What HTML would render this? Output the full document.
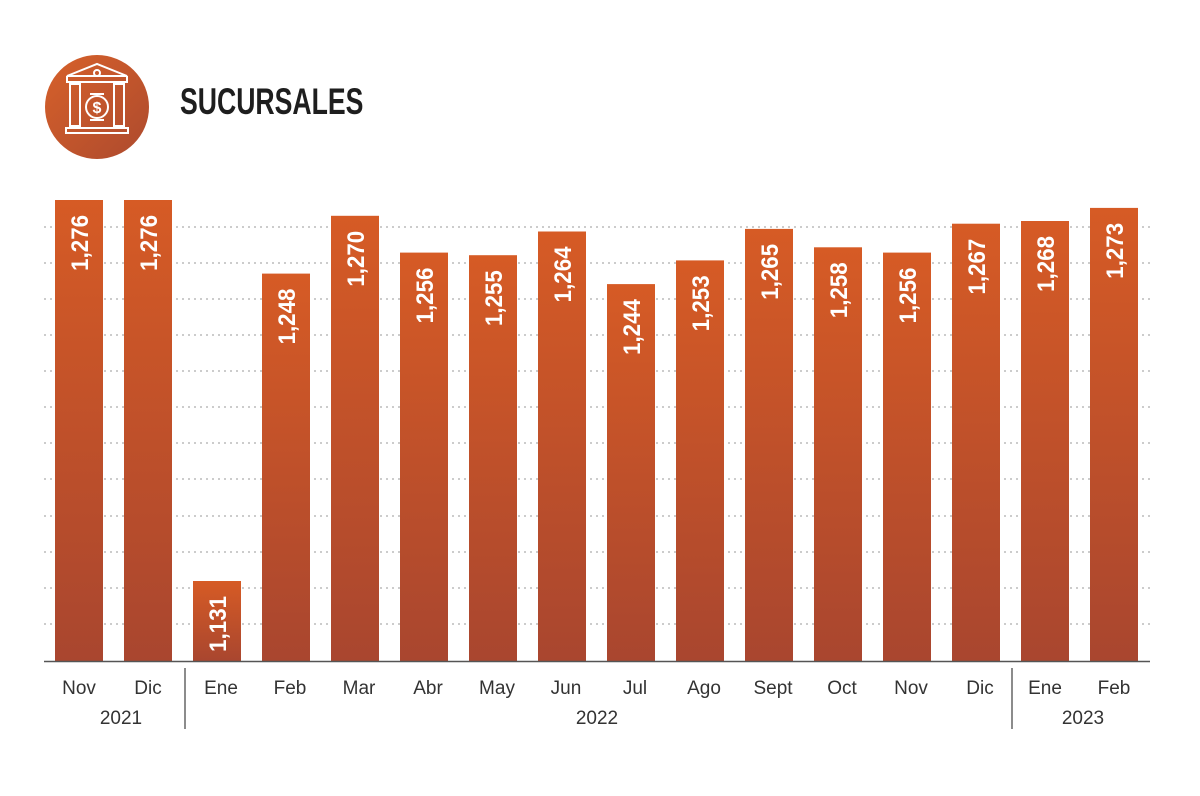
<!DOCTYPE html>
<html><head><meta charset="utf-8"><style>
body{margin:0;background:#fff}
svg text{font-family:"Liberation Sans",sans-serif}
</style></head><body>
<svg width="1200" height="791" viewBox="0 0 1200 791" xmlns="http://www.w3.org/2000/svg">
<defs>
<linearGradient id="g" x1="0" y1="0" x2="0" y2="1"><stop offset="0" stop-color="#d65b25"/><stop offset="1" stop-color="#a9462f"/></linearGradient>
<linearGradient id="c" x1="0" y1="0" x2="1" y2="1"><stop offset="0" stop-color="#d7612a"/><stop offset="1" stop-color="#ad4a2e"/></linearGradient>
</defs>
<circle cx="97" cy="107" r="52" fill="url(#c)"/>
<g stroke="#fff" stroke-width="2" fill="none">
<path d="M67 76 L97 64 L127 76 Z M67 76 v6 h60 v-6"/>
<circle cx="97" cy="73" r="3"/>
<rect x="70" y="84" width="10" height="42"/><rect x="114" y="84" width="10" height="42"/>
<circle cx="97" cy="107" r="11"/>
<path d="M90 94 h14 M90 120 h14 M66 128 h62 v5 h-62 z"/>
</g>
<text x="97" y="113" font-size="16" fill="#fff" text-anchor="middle" font-weight="bold">$</text>
<text transform="translate(180,114) scale(0.72,1)" font-size="37" font-weight="bold" fill="#1e1e1e">SUCURSALES</text>
<g stroke="#ccc" stroke-width="2" stroke-dasharray="2,4">
<line x1="44" x2="1150" y1="227" y2="227"/><line x1="44" x2="1150" y1="263" y2="263"/><line x1="44" x2="1150" y1="299" y2="299"/><line x1="44" x2="1150" y1="335" y2="335"/><line x1="44" x2="1150" y1="371" y2="371"/><line x1="44" x2="1150" y1="407" y2="407"/><line x1="44" x2="1150" y1="443" y2="443"/><line x1="44" x2="1150" y1="479" y2="479"/><line x1="44" x2="1150" y1="516" y2="516"/><line x1="44" x2="1150" y1="552" y2="552"/><line x1="44" x2="1150" y1="588" y2="588"/><line x1="44" x2="1150" y1="624" y2="624"/>
</g>
<g fill="url(#g)">
<rect x="55" y="200" width="48" height="461"/>
<rect x="124" y="200" width="48" height="461"/>
<rect x="193" y="581" width="48" height="80"/>
<rect x="262" y="273.6" width="48" height="387.4"/>
<rect x="331" y="215.8" width="48" height="445.2"/>
<rect x="400" y="252.6" width="48" height="408.4"/>
<rect x="469" y="255.2" width="48" height="405.8"/>
<rect x="538" y="231.5" width="48" height="429.5"/>
<rect x="607" y="284.1" width="48" height="376.9"/>
<rect x="676" y="260.4" width="48" height="400.6"/>
<rect x="745" y="228.9" width="48" height="432.1"/>
<rect x="814" y="247.3" width="48" height="413.7"/>
<rect x="883" y="252.6" width="48" height="408.4"/>
<rect x="952" y="223.7" width="48" height="437.3"/>
<rect x="1021" y="221" width="48" height="440"/>
<rect x="1090" y="207.9" width="48" height="453.1"/>
</g>
<g font-size="24" font-weight="bold" fill="#fff" text-anchor="end">
<text transform="translate(88,215) rotate(-90) scale(0.93,1)">1,276</text>
<text transform="translate(157,215) rotate(-90) scale(0.93,1)">1,276</text>
<text transform="translate(226,596) rotate(-90) scale(0.93,1)">1,131</text>
<text transform="translate(295,288.6) rotate(-90) scale(0.93,1)">1,248</text>
<text transform="translate(364,230.8) rotate(-90) scale(0.93,1)">1,270</text>
<text transform="translate(433,267.6) rotate(-90) scale(0.93,1)">1,256</text>
<text transform="translate(502,270.2) rotate(-90) scale(0.93,1)">1,255</text>
<text transform="translate(571,246.5) rotate(-90) scale(0.93,1)">1,264</text>
<text transform="translate(640,299.1) rotate(-90) scale(0.93,1)">1,244</text>
<text transform="translate(709,275.4) rotate(-90) scale(0.93,1)">1,253</text>
<text transform="translate(778,243.9) rotate(-90) scale(0.93,1)">1,265</text>
<text transform="translate(847,262.3) rotate(-90) scale(0.93,1)">1,258</text>
<text transform="translate(916,267.6) rotate(-90) scale(0.93,1)">1,256</text>
<text transform="translate(985,238.7) rotate(-90) scale(0.93,1)">1,267</text>
<text transform="translate(1054,236) rotate(-90) scale(0.93,1)">1,268</text>
<text transform="translate(1123,222.9) rotate(-90) scale(0.93,1)">1,273</text>
</g>
<line x1="44" x2="1150" y1="661.5" y2="661.5" stroke="#555" stroke-width="1.5"/>
<line x1="185" x2="185" y1="668" y2="729" stroke="#666" stroke-width="1.5"/>
<line x1="1012" x2="1012" y1="668" y2="729" stroke="#666" stroke-width="1.5"/>
<g font-size="19" fill="#333" text-anchor="middle">
<text x="79" y="694">Nov</text><text x="148" y="694">Dic</text><text x="221" y="694">Ene</text><text x="290" y="694">Feb</text><text x="359" y="694">Mar</text><text x="428" y="694">Abr</text><text x="497" y="694">May</text><text x="566" y="694">Jun</text><text x="635" y="694">Jul</text><text x="704" y="694">Ago</text><text x="773" y="694">Sept</text><text x="842" y="694">Oct</text><text x="911" y="694">Nov</text><text x="980" y="694">Dic</text><text x="1045" y="694">Ene</text><text x="1114" y="694">Feb</text>
<text x="121" y="724">2021</text><text x="597" y="724">2022</text><text x="1083" y="724">2023</text>
</g>
</svg>
</body></html>
